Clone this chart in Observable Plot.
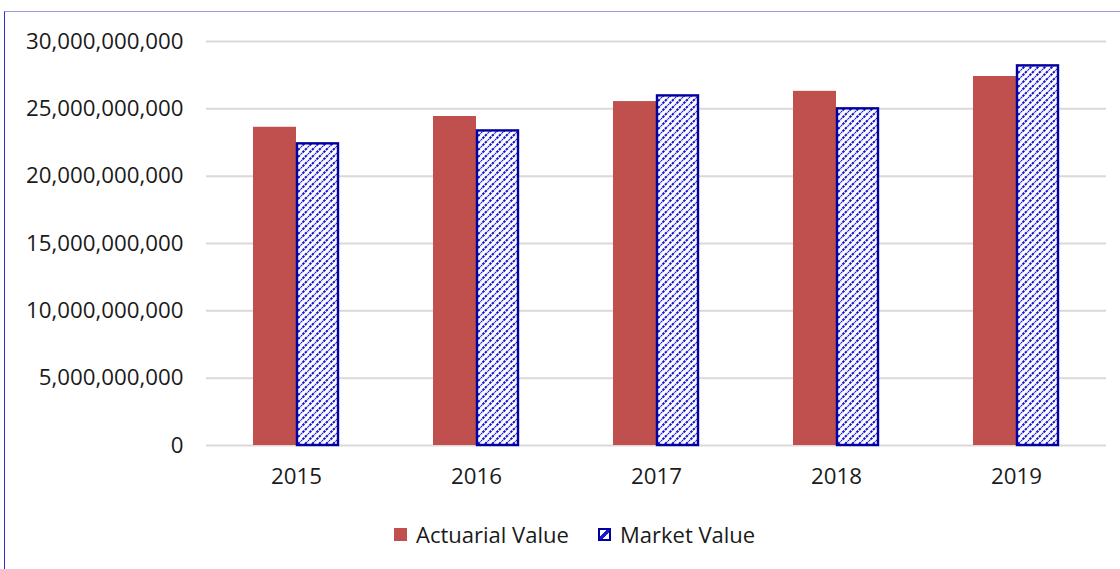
<!DOCTYPE html>
<html>
<head>
<meta charset="utf-8">
<script src="https://cdn.jsdelivr.net/npm/d3@7"></script>
<script src="https://cdn.jsdelivr.net/npm/@observablehq/plot@0.6"></script>
<style>
  html, body { margin: 0; padding: 0; background: #fff; }
  #frame { position: relative; width: 1120px; height: 569px; overflow: hidden; font-family: "Open Sans", sans-serif; }
  #border { position: absolute; left: 4px; top: 11px; right: -2px; bottom: -2px; border-left: 1.5px solid #3030d0; border-top: 1px solid #9a9ae0; }
  #chart { position: absolute; left: 0; top: 0; }
  #legend { position: absolute; top: 518px; left: 0; width: 1120px; height: 32px; }
  .item { position: absolute; top: 0; display: flex; align-items: center; height: 32px; font-size: 22px; color: #1a1a1a; }
  .sw { width: 13px; height: 13px; margin-right: 9px; box-sizing: border-box; }
</style>
</head>
<body>
<div id="frame">
  <div id="border"></div>
  <div id="chart"></div>
  <div id="legend"></div>
</div>
<script>
const years = ["2015", "2016", "2017", "2018", "2019"];
const seriesNames = ["Actuarial Value", "Market Value"];
const actuarialValues = [23.63e9, 24.43e9, 25.54e9, 26.30e9, 27.40e9];
const marketValues = [22.40e9, 23.36e9, 25.96e9, 25.00e9, 28.19e9];
const yTicks = [0, 5e9, 10e9, 15e9, 20e9, 25e9, 30e9];

const data = [];
years.forEach((y, i) => {
  data.push({year: y, series: seriesNames[0], value: actuarialValues[i]});
  data.push({year: y, series: seriesNames[1], value: marketValues[i]});
});

const chart = Plot.plot({
  width: 1120,
  height: 500,
  marginLeft: 206,
  marginRight: 14,
  marginTop: 41,
  marginBottom: 55,
  style: {fontFamily: "Open Sans, sans-serif", fontSize: "22.3px", color: "#1a1a1a", background: "transparent"},
  fx: {domain: years, padding: 0, label: null, axis: null},
  x: {domain: seriesNames, paddingInner: 0, paddingOuter: 1.093, axis: null},
  y: {domain: [0, 30e9], label: null, axis: null},
  marks: [
    Plot.gridY(yTicks, {stroke: "#d9d9d9", strokeWidth: 2, strokeOpacity: 1}),
    Plot.axisY(yTicks, {tickSize: 0, tickPadding: 23, tickFormat: d3.format(","), label: null, fontSize: 22.3}),
    Plot.axisFx({anchor: "bottom", tickSize: 0, tickPadding: 23, label: null, fontSize: 22.3}),
    Plot.barY(data.filter(d => d.series === seriesNames[0]), {fx: "year", x: "series", y: "value", fill: "#C0504D"}),
    Plot.barY(data.filter(d => d.series === seriesNames[1]), {fx: "year", x: "series", y: "value", fill: "url(#hatch)", stroke: "#0000A0", strokeWidth: 2.4, insetLeft: 1, insetRight: 1})
  ]
});

// hatch pattern definition
const ns = "http://www.w3.org/2000/svg";
const defs = document.createElementNS(ns, "defs");
defs.innerHTML = `
  <pattern id="hatch" patternUnits="userSpaceOnUse" width="7" height="7">
    <rect width="7" height="7" fill="#ffffff"/>
    <path d="M-1,8 L8,-1 M-4.5,4.5 L4.5,-4.5 M2.5,11.5 L11.5,2.5" stroke="#1414d0" stroke-width="2" stroke-dasharray="2.6 0.9"/>
  </pattern>`;
chart.insertBefore(defs, chart.firstChild);
document.getElementById("chart").appendChild(chart);

// legend
const legend = document.getElementById("legend");
const items = [
  {label: seriesNames[0], left: 394, sw: "background:#C0504D;"},
  {label: seriesNames[1], left: 598, sw: "border:2px solid #0000A0; background: linear-gradient(-45deg, #fff 0 38%, #1a1acc 38% 62%, #fff 62% 100%);"}
];
items.forEach(it => {
  const d = document.createElement("div");
  d.className = "item";
  d.style.left = it.left + "px";
  d.innerHTML = `<div class="sw" style="${it.sw}"></div><span>${it.label}</span>`;
  legend.appendChild(d);
});
</script>
</body>
</html>
